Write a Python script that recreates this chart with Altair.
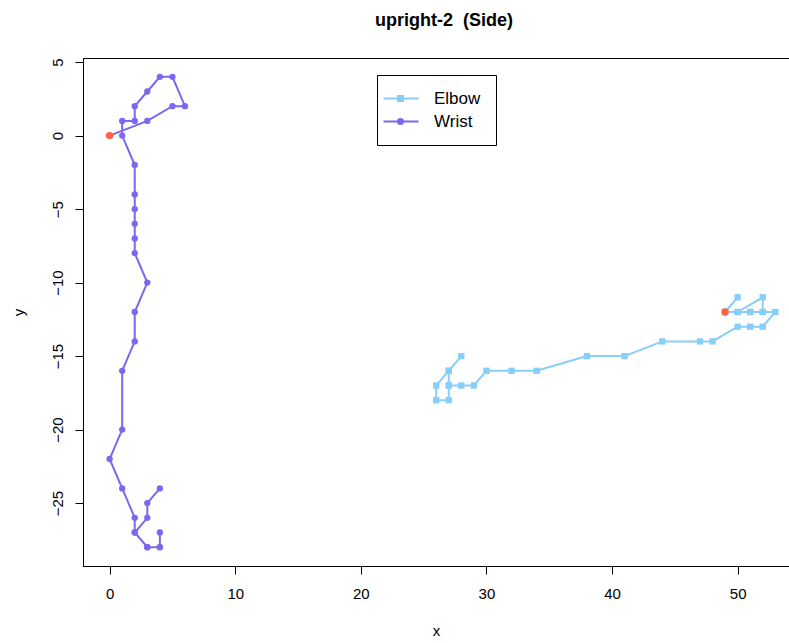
import altair as alt
import pandas as pd

# ---- data ----
series_names = ["Elbow", "Wrist"]
series_colors = ["#87CEFA", "#7B68EE"]
start_color = "#FF6347"

elbow_x = [49, 50, 49, 50, 52, 52, 51, 50, 51, 52, 53, 52, 51, 50, 48, 47, 44, 41, 38,
           34, 32, 30, 29, 28, 27, 27, 26, 26, 27, 27, 27, 28]
elbow_y = [-12, -11, -12, -12, -11, -12, -12, -12, -12, -12, -12, -13, -13, -13, -14, -14,
           -14, -15, -15, -16, -16, -16, -17, -17, -17, -16, -17, -18, -18, -17, -16, -15]

wrist_x = [0, 3, 5, 6, 5, 4, 3, 2, 2, 1, 1, 2, 2, 2, 2, 2, 2, 3, 2, 2, 1, 1, 0, 1, 2, 2,
           3, 4, 4, 4, 3, 2, 3, 3, 4]
wrist_y = [0, 1, 2, 2, 4, 4, 3, 2, 1, 1, 0, -2, -4, -5, -6, -7, -8, -10, -12, -14, -16,
           -20, -22, -24, -26, -27, -28, -28, -27, -28, -28, -27, -26, -25, -24]

x_ticks = [0, 10, 20, 30, 40, 50]
y_ticks = [5, 0, -5, -10, -15, -20, -25]
x_domain = [-2.12, 54.09]
y_domain = [-29.28, 5.28]

rows = []
for name, xs, ys in (("Elbow", elbow_x, elbow_y), ("Wrist", wrist_x, wrist_y)):
    for i, (xv, yv) in enumerate(zip(xs, ys)):
        rows.append({"series": name, "idx": i, "x": xv, "y": yv})
df = pd.DataFrame(rows)

FONT = "Liberation Sans"

X = alt.X("x:Q", scale=alt.Scale(domain=x_domain, nice=False, zero=False),
          axis=alt.Axis(values=x_ticks, title="x", grid=False, tickSize=8,
                        labelPadding=12, titlePadding=22, labelFontSize=15,
                        titleFontSize=15, labelFont=FONT, titleFont=FONT,
                        titleFontWeight="normal", labelColor="black",
                        titleColor="black", tickColor="black", domainColor="black",
                        labelFlush=False))
Y = alt.Y("y:Q", scale=alt.Scale(domain=y_domain, nice=False, zero=False),
          axis=alt.Axis(values=y_ticks, title="y", grid=False, tickSize=8,
                        labelAngle=270, labelAlign="center", labelBaseline="bottom",
                        labelPadding=10, titlePadding=24, labelFontSize=15,
                        titleFontSize=15, labelFont=FONT, titleFont=FONT,
                        titleFontWeight="normal", labelColor="black",
                        titleColor="black", tickColor="black", domainColor="black",
                        labelFlush=False))

base = alt.Chart(df)
layers = []
marker_shapes = {"Elbow": "square", "Wrist": "circle"}
for name, col in zip(series_names, series_colors):
    sub = base.transform_filter(alt.datum.series == name)
    layers.append(sub.mark_line(strokeWidth=2, color=col).encode(
        x=X, y=Y, order=alt.Order("idx:Q")))
    layers.append(sub.mark_point(filled=True, shape=marker_shapes[name], size=40,
                                 opacity=1, color=col).encode(x=X, y=Y))

start_pts = base.transform_filter("datum.idx == 0").mark_point(
    filled=True, shape="circle", size=55, opacity=1, color=start_color
).encode(x=X, y=Y)

sq_path = "M-3.4,0H3.6M-0.5,-0.5H0.5V0.5H-0.5Z"
ci_path = "M-3.4,0H3.6M0.5,0A0.5,0.5,0,1,1,-0.5,0A0.5,0.5,0,1,1,0.5,0Z"

legend = alt.Legend(title=None, orient="none", legendX=294, legendY=17, padding=15,
                    strokeColor="black", fillColor="white", cornerRadius=0,
                    labelFont=FONT, labelFontSize=17, labelColor="black",
                    symbolSize=100, symbolStrokeWidth=2, labelOffset=25,
                    rowPadding=5, labelLimit=0, symbolOpacity=1)

# invisible layer that only carries the legend
legend_layer = base.transform_filter("datum.idx == 0").mark_point(
    filled=True, opacity=0, strokeWidth=2
).encode(
    x=X, y=Y,
    color=alt.Color("series:N", scale=alt.Scale(domain=series_names, range=series_colors),
                    legend=legend),
    stroke=alt.Stroke("series:N", scale=alt.Scale(domain=series_names, range=series_colors),
                      legend=legend),
    shape=alt.Shape("series:N", scale=alt.Scale(domain=series_names, range=[sq_path, ci_path]),
                    legend=legend),
)

chart = alt.layer(*layers, legend_layer, start_pts).properties(
    width=706, height=508,
    title=alt.TitleParams("upright-2\u00a0 (Side)", font=FONT, fontSize=18,
                          fontWeight="bold", color="black", anchor="middle",
                          baseline="alphabetic", offset=14, dx=8),
    autosize=alt.AutoSizeParams(type="none"),
    padding={"left": 83, "top": 58, "right": 0, "bottom": 77},
).configure(background="white").configure_view(stroke="black", strokeWidth=1)

chart.save("out.html", embed_options={"renderer": "svg", "actions": False})
